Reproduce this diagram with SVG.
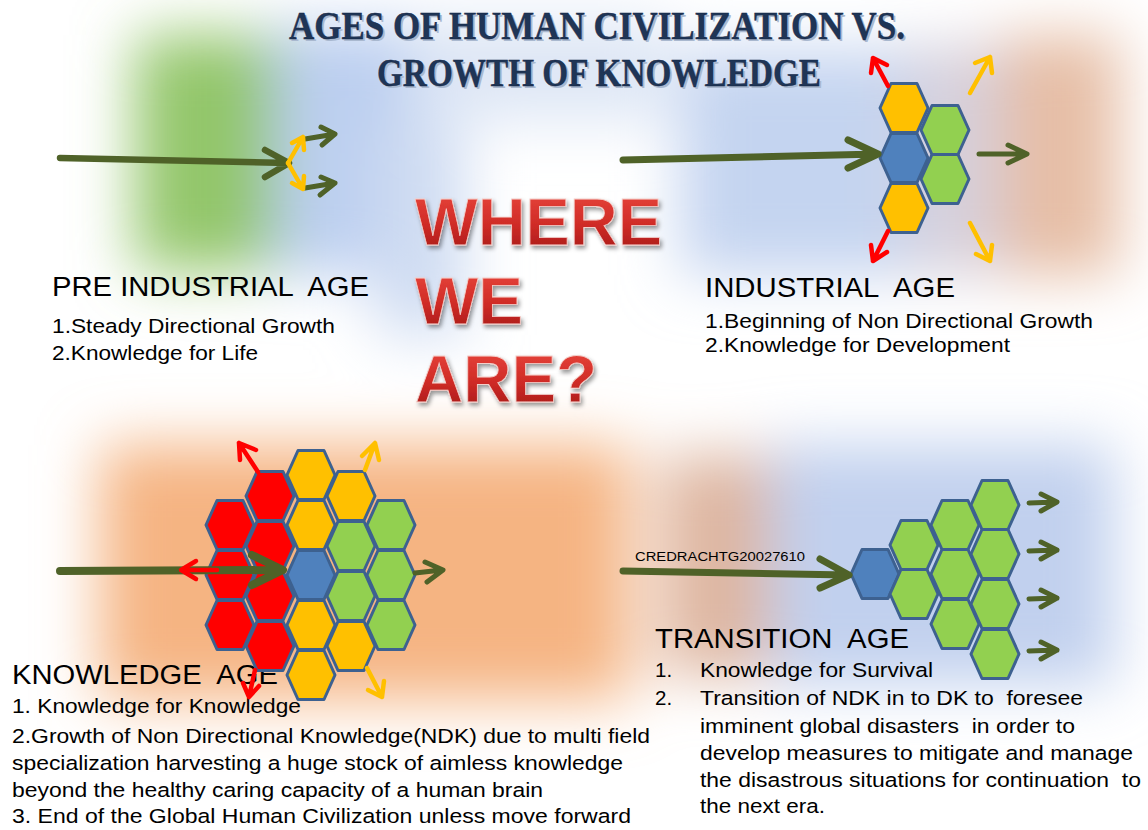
<svg xmlns="http://www.w3.org/2000/svg" width="1148" height="830" viewBox="0 0 1148 830">
<defs>
<style>
.t{font-family:"Liberation Sans",Arial,sans-serif;fill:#000;white-space:pre}
.h{font-size:27px}
.b{font-size:20.5px}
.hx{stroke:#3d6190;stroke-width:3;stroke-linejoin:round}
.Y{fill:#FFC000}.G{fill:#92D050}.B{fill:#4F81BD}.R{fill:#FF0000}
.ag,.ar,.ay{fill:none;stroke-linecap:round;stroke-linejoin:round}
.ag{stroke:#4F6228}.ar{stroke:#FF0000}.ay{stroke:#FFC000}
.ttl{font-family:"Liberation Serif","Times New Roman",serif;font-weight:bold;font-size:40px;fill:#1f3556;stroke:#0f2140;stroke-width:.4}
.ttls{font-family:"Liberation Serif","Times New Roman",serif;font-weight:bold;font-size:40px;fill:#a9b8cf}
.big{font-family:"Liberation Sans",Arial,sans-serif;font-weight:bold;font-size:67px;fill:url(#redg);stroke:#f4cfca;stroke-width:.8;filter:url(#ds)}
</style>
<linearGradient id="redg" x1="0" y1="0" x2="0" y2="1">
<stop offset="0" stop-color="#ec4a40"/>
<stop offset="0.55" stop-color="#cf2b26"/>
<stop offset="1" stop-color="#9e1616"/>
</linearGradient>
<filter id="soft" filterUnits="userSpaceOnUse" x="0" y="0" width="1148" height="830">
<feGaussianBlur stdDeviation="30"/>
</filter>
<filter id="ds" x="-10%" y="-20%" width="130%" height="150%">
<feDropShadow dx="2" dy="3" stdDeviation="2" flood-color="#000" flood-opacity="0.4"/>
</filter>
<path id="hex" d="M-24,0 L-13,-24.5 L13,-24.5 L24,0 L13,24.5 L-13,24.5Z"/>
</defs>

<rect width="1148" height="830" fill="#fff"/>
<g id="background" filter="url(#soft)">
<rect x="135" y="35" width="150" height="235" fill="#93c66b"/>
<rect x="275" y="25" width="150" height="250" fill="#bccff0"/>
<rect x="410" y="20" width="260" height="100" fill="#dde6f5"/>
<rect x="375" y="125" width="90" height="210" fill="#cfdcf2"/>
<rect x="680" y="50" width="230" height="225" fill="#c4d4f0"/>
<rect x="905" y="45" width="100" height="230" fill="#d6d0dc"/>
<rect x="1000" y="35" width="120" height="240" fill="#e6bea6"/>
<rect x="100" y="445" width="530" height="255" fill="#f5b482"/>
<rect x="660" y="455" width="110" height="220" fill="#deb6a0"/>
<rect x="770" y="445" width="345" height="240" fill="#c1d0ee"/>
</g>

<g id="title">
<text class="ttls" x="291" y="41" textLength="616" lengthAdjust="spacingAndGlyphs">AGES OF HUMAN CIVILIZATION VS.</text>
<text class="ttls" x="379" y="88" textLength="444" lengthAdjust="spacingAndGlyphs">GROWTH OF KNOWLEDGE</text>
<text class="ttl" x="289" y="39" textLength="616" lengthAdjust="spacingAndGlyphs">AGES OF HUMAN CIVILIZATION VS.</text>
<text class="ttl" x="377" y="86" textLength="444" lengthAdjust="spacingAndGlyphs">GROWTH OF KNOWLEDGE</text>
</g>

<g id="where-we-are">
<text class="big" x="415" y="245" textLength="247" lengthAdjust="spacingAndGlyphs">WHERE</text>
<text class="big" x="415" y="324">WE</text>
<text class="big" x="415" y="402" textLength="182" lengthAdjust="spacingAndGlyphs">ARE?</text>
</g>

<g id="pre-industrial-age">
<text class="t h" x="52" y="296" textLength="317" lengthAdjust="spacingAndGlyphs">PRE INDUSTRIAL  AGE</text>
<text class="t b" x="52" y="333" textLength="283" lengthAdjust="spacingAndGlyphs">1.Steady Directional Growth</text>
<text class="t b" x="52" y="360" textLength="206" lengthAdjust="spacingAndGlyphs">2.Knowledge for Life</text>
</g>

<g id="industrial-age">
<text class="t h" x="705" y="297" textLength="250" lengthAdjust="spacingAndGlyphs">INDUSTRIAL  AGE</text>
<text class="t b" x="705" y="328" textLength="388" lengthAdjust="spacingAndGlyphs">1.Beginning of Non Directional Growth</text>
<text class="t b" x="705" y="352" textLength="305" lengthAdjust="spacingAndGlyphs">2.Knowledge for Development</text>
<use href="#hex" class="hx Y" x="904" y="108"/>
<use href="#hex" class="hx B" x="904" y="158"/>
<use href="#hex" class="hx Y" x="904" y="208"/>
<use href="#hex" class="hx G" x="945" y="130"/>
<use href="#hex" class="hx G" x="945" y="179"/>
</g>

<g id="knowledge-age">
<text class="t h" x="12" y="684" textLength="266" lengthAdjust="spacingAndGlyphs">KNOWLEDGE  AGE</text>
<text class="t b" x="12" y="713" textLength="289" lengthAdjust="spacingAndGlyphs">1. Knowledge for Knowledge</text>
<text class="t b" x="12" y="743" textLength="638" lengthAdjust="spacingAndGlyphs">2.Growth of Non Directional Knowledge(NDK) due to multi field</text>
<text class="t b" x="12" y="770" textLength="611" lengthAdjust="spacingAndGlyphs">specialization harvesting a huge stock of aimless knowledge</text>
<text class="t b" x="12" y="797" textLength="531" lengthAdjust="spacingAndGlyphs">beyond the healthy caring capacity of a human brain</text>
<text class="t b" x="12" y="823" textLength="619" lengthAdjust="spacingAndGlyphs">3. End of the Global Human Civilization unless move forward</text>
<use href="#hex" class="hx R" x="230" y="525"/>
<use href="#hex" class="hx R" x="230" y="575"/>
<use href="#hex" class="hx R" x="230" y="625"/>
<use href="#hex" class="hx R" x="270" y="496"/>
<use href="#hex" class="hx R" x="270" y="546"/>
<use href="#hex" class="hx R" x="270" y="596"/>
<use href="#hex" class="hx R" x="270" y="646"/>
<use href="#hex" class="hx Y" x="311" y="475"/>
<use href="#hex" class="hx Y" x="311" y="525"/>
<use href="#hex" class="hx B" x="311" y="575"/>
<use href="#hex" class="hx Y" x="311" y="625"/>
<use href="#hex" class="hx Y" x="311" y="675"/>
<use href="#hex" class="hx Y" x="351" y="496"/>
<use href="#hex" class="hx G" x="351" y="546"/>
<use href="#hex" class="hx G" x="351" y="596"/>
<use href="#hex" class="hx Y" x="351" y="646"/>
<use href="#hex" class="hx G" x="391" y="525"/>
<use href="#hex" class="hx G" x="391" y="575"/>
<use href="#hex" class="hx G" x="391" y="625"/>
</g>

<g id="transition-age">
<text class="t" x="635" y="561" font-size="12.5" textLength="170" lengthAdjust="spacingAndGlyphs">CREDRACHTG20027610</text>
<text class="t h" x="655" y="648" textLength="254" lengthAdjust="spacingAndGlyphs">TRANSITION  AGE</text>
<text class="t b" x="655" y="677">1.</text>
<text class="t b" x="700" y="677" textLength="233" lengthAdjust="spacingAndGlyphs">Knowledge for Survival</text>
<text class="t b" x="655" y="705">2.</text>
<text class="t b" x="700" y="705" textLength="383" lengthAdjust="spacingAndGlyphs">Transition of NDK in to DK to  foresee</text>
<text class="t b" x="700" y="733" textLength="375" lengthAdjust="spacingAndGlyphs">imminent global disasters  in order to</text>
<text class="t b" x="700" y="760" textLength="433" lengthAdjust="spacingAndGlyphs">develop measures to mitigate and manage</text>
<text class="t b" x="700" y="787" textLength="441" lengthAdjust="spacingAndGlyphs">the disastrous situations for continuation  to</text>
<text class="t b" x="700" y="813" textLength="125" lengthAdjust="spacingAndGlyphs">the next era.</text>
<use href="#hex" class="hx B" x="875" y="574"/>
<use href="#hex" class="hx G" x="914" y="545"/>
<use href="#hex" class="hx G" x="914" y="594"/>
<use href="#hex" class="hx G" x="955" y="525"/>
<use href="#hex" class="hx G" x="955" y="574"/>
<use href="#hex" class="hx G" x="955" y="624"/>
<use href="#hex" class="hx G" x="995" y="505"/>
<use href="#hex" class="hx G" x="995" y="554"/>
<use href="#hex" class="hx G" x="995" y="604"/>
<use href="#hex" class="hx G" x="995" y="654"/>
</g>

<g id="connectors">
<path class="ag" stroke-width="6.5" d="M60,158 L289,163 M265,150 L289,163 L265,177"/>
<path class="ag" stroke-width="5" d="M305,139 L335,134 M321,127 L335,134 L322,145"/>
<path class="ag" stroke-width="5" d="M305,188 L335,183 M321,177 L335,183 L320,195"/>
<path class="ay" stroke-width="4.5" d="M288,163 L303,137 M292,143 L303,137 L304,150"/>
<path class="ay" stroke-width="4.5" d="M288,163 L303,189 M292,183 L303,189 L304,176"/>
<path class="ag" stroke-width="7" d="M623,160 L878,154 M848,140 L878,154 L848,168"/>
<path class="ag" stroke-width="5" d="M979,154 L1026,154 M1008,145 L1027,154 L1008,163"/>
<path class="ar" stroke-width="4.5" d="M888,86 L873,58 M871,73 L873,58 L887,65"/>
<path class="ar" stroke-width="4.5" d="M888,231 L873,261 M871,245 L873,261 L887,252"/>
<path class="ay" stroke-width="4.5" d="M970,93 L990,57 M975,63 L990,57 L992,73"/>
<path class="ay" stroke-width="4.5" d="M970,223 L990,261 M976,254 L990,261 L992,245"/>
<path class="ag" stroke-width="8" d="M60,571 L282,570 M252,555 L283,570 L252,585"/>
<path class="ar" stroke-width="4.5" d="M217,570 L182,570 M196,561 L181,570 L196,579"/>
<path class="ar" stroke-width="4.5" d="M258,472 L239,443 M256,450 L239,443 L240,460"/>
<path class="ay" stroke-width="4.5" d="M365,470 L375,443 M362,456 L375,443 L379,460"/>
<path class="ag" stroke-width="5" d="M415,573 L442,570 M425,562 L443,570 L427,582"/>
<path class="ay" stroke-width="4.5" d="M367,668 L382,697 M384,681 L382,697 L368,690"/>
<path class="ar" stroke-width="4.5" d="M255,670 L249,697 M259,686 L249,697 L243,683"/>
<path class="ag" stroke-width="7" d="M623,571 L848,575 M820,559 L849,575 L820,588"/>
<path class="ag" stroke-width="5" d="M1029,503 L1057,502 M1041,494 L1057,502 L1041,511"/>
<path class="ag" stroke-width="5" d="M1029,551 L1057,550 M1041,542 L1057,550 L1041,559"/>
<path class="ag" stroke-width="5" d="M1029,599 L1057,598 M1041,590 L1057,598 L1041,607"/>
<path class="ag" stroke-width="5" d="M1029,651 L1057,650 M1041,642 L1057,650 L1041,659"/>
</g>
</svg>
